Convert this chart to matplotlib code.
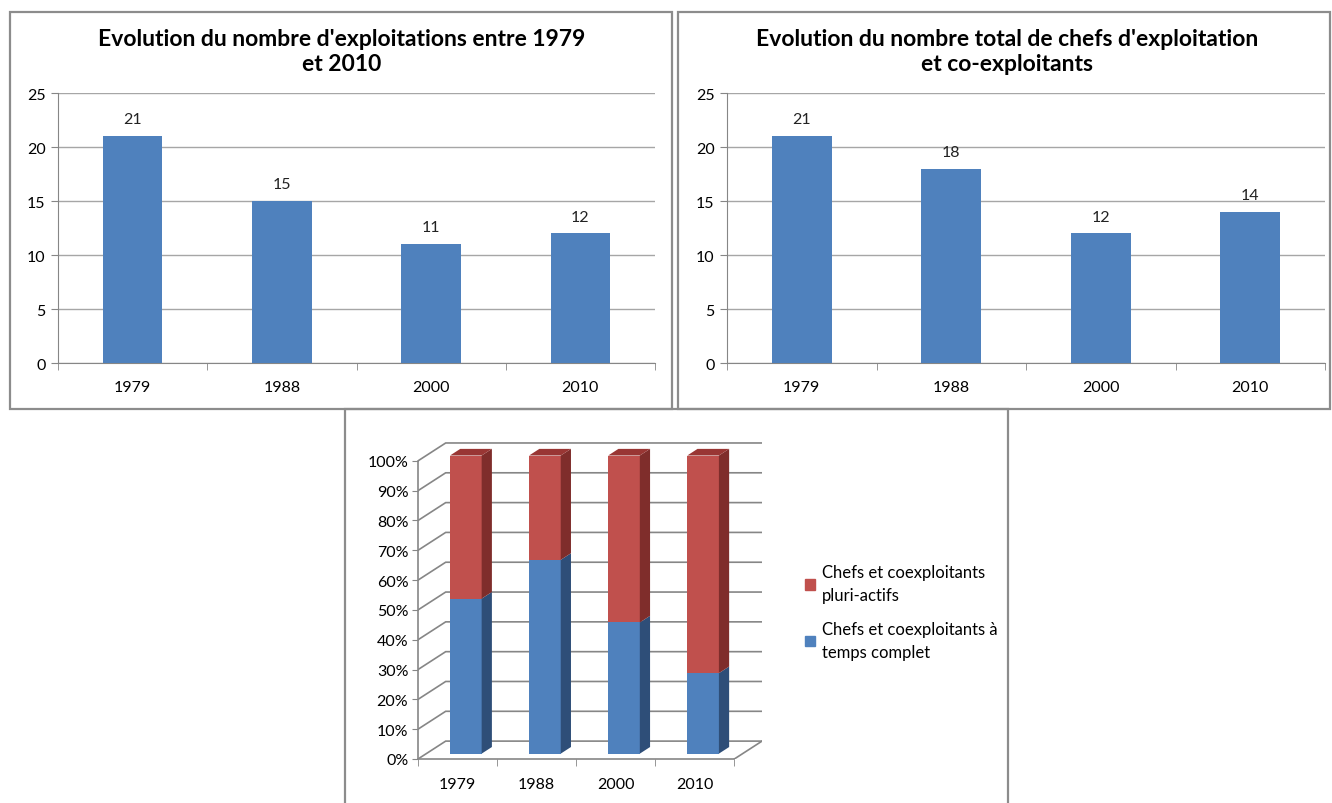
import matplotlib.pyplot as plt
from matplotlib.patches import Rectangle, Polygon, Patch

plt.rcParams['font.family'] = ['Lato', 'DejaVu Sans']

# data
years = ['1979', '1988', '2000', '2010']
exploitations = [21, 15, 11, 12]
chefs_total = [21, 18, 12, 14]
pct_complet = [52, 65, 44, 27]          # chefs et coexploitants a temps complet (%)
pct_pluri = [100 - p for p in pct_complet]  # pluri-actifs (%)

BLUE = '#4F81BD'
RED = '#C0504D'
GRID = '#a6a6a6'
AXIS = '#868686'

W, H = 1332, 804
fig = plt.figure(figsize=(W / 100, H / 100), dpi=100)


def box(x0, y0, x1, y1):
    # pixel box -> figure fraction [left, bottom, width, height]
    return [x0 / W, 1 - y1 / H, (x1 - x0) / W, (y1 - y0) / H]


def panel(x0, y0, x1, y1):
    fig.add_artist(Rectangle((x0 / W, 1 - y1 / H), (x1 - x0) / W, (y1 - y0) / H,
                             transform=fig.transFigure, fill=False,
                             ec='#8c8c8c', lw=1.6))


def simple_bars(ax, values, title, cx):
    x = range(len(years))
    ax.bar(x, values, width=0.4, color=BLUE, zorder=3)
    for i, v in enumerate(values):
        ax.annotate(str(v), (i, v), xytext=(0, 7), textcoords='offset points',
                    ha='center', va='bottom', fontsize=11.5, color='#222222')
    ax.set_xlim(-0.5, 3.5)
    ax.set_ylim(0, 25)
    ax.set_yticks(range(0, 26, 5))
    ax.set_xticks(list(x))
    ax.set_xticklabels(years)
    ax.set_xticks([-0.5, 0.5, 1.5, 2.5, 3.5], minor=True)
    ax.tick_params(axis='x', which='major', length=0, pad=12, labelsize=11.5)
    ax.tick_params(axis='x', which='minor', length=5, color=AXIS, direction='out')
    ax.tick_params(axis='y', length=5, color=AXIS, labelsize=11.5, pad=4)
    ax.grid(axis='y', color=GRID, lw=1, zorder=0)
    for s in ['top', 'right']:
        ax.spines[s].set_visible(False)
    for s in ['left', 'bottom']:
        ax.spines[s].set_color(AXIS)
    fig.text(cx / W, 1 - 52 / H, title, ha='center', va='center',
             fontsize=16.5, fontweight='bold', linespacing=1.25)


panel(10, 13, 672, 410)
panel(678, 13, 1330, 410)
panel(345, 410, 1008, 820)

ax1 = fig.add_axes(box(58, 94, 655, 364))
simple_bars(ax1, exploitations,
            "Evolution du nombre d'exploitations entre 1979\net 2010", 342)
ax2 = fig.add_axes(box(727, 94, 1325, 364))
simple_bars(ax2, chefs_total,
            "Evolution du nombre total de chefs d'exploitation\net co-exploitants", 1007)

# pseudo-3D stacked percentage chart
DX, DY = 0.35, 6.0       # wall depth in data units
F0, F1 = 0.3, 0.67       # bar depth range (fraction of wall depth)
BW = 0.4
ax3 = fig.add_axes(box(418, 441, 762, 760))
ax3.set_xlim(-0.5, 3.5 + DX)
ax3.set_ylim(0, 100 + DY + 1)

for g in range(0, 101, 10):
    ax3.plot([-0.5, -0.5 + DX, 3.5 + DX], [g, g + DY, g + DY],
             color=AXIS, lw=1.2, zorder=1, solid_joinstyle='miter')
ax3.plot([3.5 + DX, 3.5], [DY, 0], color=AXIS, lw=1.2, zorder=1)

ox, oy = F0 * DX, F0 * DY
dx, dy = (F1 - F0) * DX, (F1 - F0) * DY
xs = [i + ox for i in range(len(years))]
ax3.bar(xs, pct_complet, width=BW, bottom=oy, color=BLUE, zorder=3)
ax3.bar(xs, pct_pluri, width=BW, bottom=[oy + b for b in pct_complet],
        color=RED, zorder=3)
for xc, b in zip(xs, pct_complet):
    xr = xc + BW / 2
    xl = xc - BW / 2
    ax3.add_patch(Polygon([(xr, oy), (xr + dx, oy + dy), (xr + dx, oy + b + dy), (xr, oy + b)],
                          closed=True, color='#2E4E78', zorder=3, lw=0))
    ax3.add_patch(Polygon([(xr, oy + b), (xr + dx, oy + b + dy), (xr + dx, oy + 100 + dy), (xr, oy + 100)],
                          closed=True, color='#7F2D2B', zorder=3, lw=0))
    ax3.add_patch(Polygon([(xl, oy + 100), (xl + dx, oy + 100 + dy), (xr + dx, oy + 100 + dy), (xr, oy + 100)],
                          closed=True, color='#993634', zorder=3, lw=0))

ax3.set_yticks(range(0, 101, 10))
ax3.set_yticklabels([f'{v}%' for v in range(0, 101, 10)])
ax3.set_xticks(range(len(years)))
ax3.set_xticklabels(years)
ax3.set_xticks([-0.5, 0.5, 1.5, 2.5, 3.5], minor=True)
ax3.tick_params(axis='x', which='major', length=0, pad=13, labelsize=11.5)
ax3.tick_params(axis='x', which='minor', length=5, color=AXIS)
ax3.tick_params(axis='y', length=4, color=AXIS, labelsize=11.5, pad=3)
for s in ['top', 'right']:
    ax3.spines[s].set_visible(False)
ax3.spines['left'].set_bounds(0, 100)
ax3.spines['bottom'].set_bounds(-0.5, 3.5)
for s in ['left', 'bottom']:
    ax3.spines[s].set_color(AXIS)
    ax3.spines[s].set_linewidth(1.2)
ax3.patch.set_visible(False)

handles = [Patch(color=RED, label='Chefs et coexploitants\npluri-actifs'),
           Patch(color=BLUE, label='Chefs et coexploitants à\ntemps complet')]
leg = fig.legend(handles=handles, loc='center left', bbox_to_anchor=(790 / W, 1 - 613 / H),
                 frameon=False, fontsize=12, handlelength=0.6, handleheight=0.6,
                 handletextpad=0.4, labelspacing=1.1)
for t in leg.get_texts():
    t.set_linespacing(1.5)

fig.savefig('out.png', dpi=100)
